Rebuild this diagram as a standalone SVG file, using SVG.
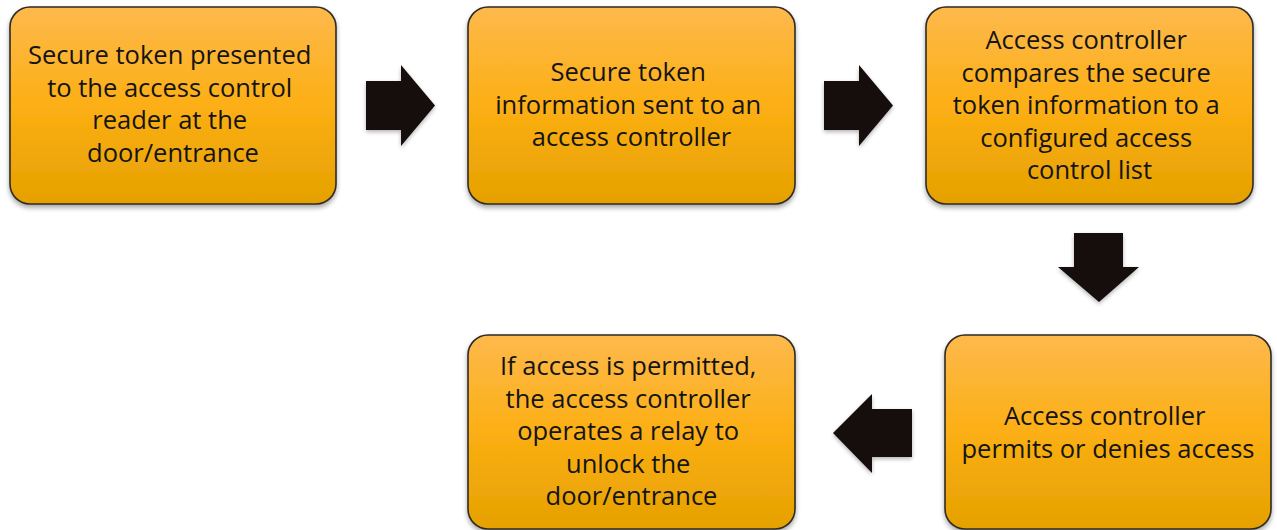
<svg xmlns="http://www.w3.org/2000/svg" width="1277" height="530" viewBox="0 0 1277 530">
  <style>
    .box { fill: url(#boxFill); stroke: #2e2a25; stroke-width: 1.6; filter: url(#boxShadow); }
    .label { font-family: "Open Sans", "Noto Sans", sans-serif; font-size: 25.5px; fill: #141414; text-anchor: middle; }
    .arrow { fill: #140f10; filter: url(#arrowShadow); }
  </style>
  <defs>
    <linearGradient id="boxFill" x1="0" y1="0" x2="0" y2="1">
      <stop offset="0" stop-color="#fdb94c"/>
      <stop offset="0.5" stop-color="#fcaf14"/>
      <stop offset="1" stop-color="#e5a100"/>
    </linearGradient>
    <filter id="boxShadow" x="-10%" y="-10%" width="120%" height="125%">
      <feGaussianBlur in="SourceAlpha" stdDeviation="2.5"/>
      <feOffset dx="0" dy="3" result="b"/>
      <feComponentTransfer><feFuncA type="linear" slope="0.35"/></feComponentTransfer>
      <feMerge><feMergeNode/><feMergeNode in="SourceGraphic"/></feMerge>
    </filter>
    <filter id="arrowShadow" x="-20%" y="-20%" width="140%" height="140%">
      <feGaussianBlur in="SourceAlpha" stdDeviation="2"/>
      <feOffset dx="0" dy="2" result="b"/>
      <feComponentTransfer><feFuncA type="linear" slope="0.3"/></feComponentTransfer>
      <feMerge><feMergeNode/><feMergeNode in="SourceGraphic"/></feMerge>
    </filter>
  </defs>

  <g id="step-present-token">
    <rect class="box" x="10" y="7" width="326" height="197" rx="20"/>
    <text class="label">
      <tspan x="173" y="64">Secure token presented</tspan>
      <tspan x="173" y="96.5">to the access control</tspan>
      <tspan x="173" y="129">reader at the</tspan>
      <tspan x="173" y="161.5">door/entrance</tspan>
    </text>
  </g>

  <g id="step-send-info">
    <rect class="box" x="468" y="7" width="327" height="197" rx="20"/>
    <text class="label">
      <tspan x="631.5" y="81">Secure token</tspan>
      <tspan x="631.5" y="113.5">information sent to an</tspan>
      <tspan x="631.5" y="146">access controller</tspan>
    </text>
  </g>

  <g id="step-compare">
    <rect class="box" x="926" y="7" width="327" height="197" rx="20"/>
    <text class="label">
      <tspan x="1089.5" y="49">Access controller</tspan>
      <tspan x="1089.5" y="81.5">compares the secure</tspan>
      <tspan x="1089.5" y="114">token information to a</tspan>
      <tspan x="1089.5" y="146.5">configured access</tspan>
      <tspan x="1089.5" y="179">control list</tspan>
    </text>
  </g>

  <g id="step-decide">
    <rect class="box" x="945" y="335" width="326" height="194" rx="20"/>
    <text class="label">
      <tspan x="1108" y="425">Access controller</tspan>
      <tspan x="1108" y="457.5">permits or denies access</tspan>
    </text>
  </g>

  <g id="step-unlock">
    <rect class="box" x="468" y="335" width="327" height="194" rx="20"/>
    <text class="label">
      <tspan x="631.5" y="375">If access is permitted,</tspan>
      <tspan x="631.5" y="407.5">the access controller</tspan>
      <tspan x="631.5" y="440">operates a relay to</tspan>
      <tspan x="631.5" y="472.5">unlock the</tspan>
      <tspan x="631.5" y="505">door/entrance</tspan>
    </text>
  </g>

  <g id="connectors">
    <polygon class="arrow" points="366,81 401,81 401,65 435,105.5 401,146 401,130 366,130"/>
    <polygon class="arrow" points="824,81 859,81 859,65 893,105.5 859,146 859,130 824,130"/>
    <polygon class="arrow" points="1074,233 1123,233 1123,267 1139,267 1099,302 1058,267 1074,267"/>
    <polygon class="arrow" points="912,409 872,409 872,394 833,433 872,473 872,457 912,457"/>
  </g>
</svg>
